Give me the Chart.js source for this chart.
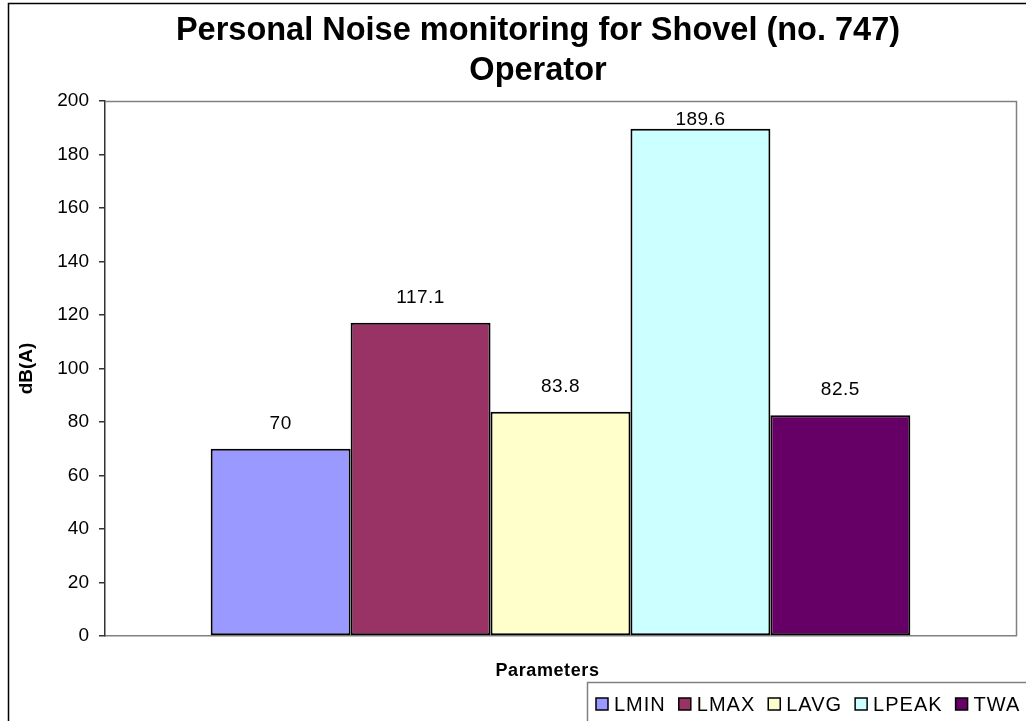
<!DOCTYPE html>
<html>
<head>
<meta charset="utf-8">
<script src="https://cdn.jsdelivr.net/npm/chart.js@4.4.0/dist/chart.umd.min.js"></script>
<style>
  html, body { margin: 0; padding: 0; background: #fff; overflow: hidden; }
  #wrap { position: relative; width: 1026px; height: 721px; }
</style>
</head>
<body>
<div id="wrap"><canvas id="c" width="1026" height="721"></canvas></div>
<script>
// ---- data ----
const categories = [''];
const seriesNames = ['LMIN', 'LMAX', 'LAVG', 'LPEAK', 'TWA'];
const seriesValues = [70, 117.1, 83.8, 189.6, 82.5];
const seriesColors = ['#9999FF', '#993366', '#FFFFCC', '#CCFFFF', '#660066'];
const titleLines = ['Personal Noise monitoring for Shovel (no. 747)', 'Operator'];
const yAxisTitle = 'dB(A)';
const xAxisTitle = 'Parameters';
const yMin = 0, yMax = 200, yStep = 20;

const FONT = '"Liberation Sans", Arial, Helvetica, sans-serif';
Chart.defaults.font.family = FONT;
Chart.defaults.color = '#000';

const datasets = seriesNames.map((name, i) => ({
  label: name,
  data: [seriesValues[i]],
  backgroundColor: seriesColors[i],
  borderColor: '#000',
  borderWidth: 2,
  borderSkipped: false,
  barPercentage: 1,
  categoryPercentage: 0.768
}));

const framePlugin = {
  id: 'frame',
  beforeDraw(chart) {
    const ctx = chart.ctx;
    ctx.save();
    ctx.fillStyle = '#fff';
    ctx.fillRect(0, 0, chart.width, chart.height);
    ctx.strokeStyle = '#000';
    ctx.lineWidth = 1.5;
    ctx.strokeRect(8.5, 3.5, 3000, 3000);
    ctx.restore();
  },
  beforeDatasetsDraw(chart) {
    const {ctx, chartArea: a} = chart;
    ctx.save();
    ctx.strokeStyle = '#808080';
    ctx.lineWidth = 1.5;
    ctx.beginPath();
    ctx.moveTo(a.left, a.top + 0.5);
    ctx.lineTo(a.right + 0.5, a.top + 0.5);
    ctx.lineTo(a.right + 0.5, a.bottom);
    ctx.stroke();
    ctx.restore();
  },
  afterLayout(chart) {
    if (chart.titleBlock) {
      chart.titleBlock.left = 50;
      chart.titleBlock.right = 1026;
    }
  }
};

const valueLabelPlugin = {
  id: 'valueLabels',
  afterDatasetsDraw(chart) {
    const {ctx, chartArea: a} = chart;
    ctx.save();
    ctx.font = '19px ' + FONT;
    ctx.fillStyle = '#000';
    ctx.textAlign = 'center';
    ctx.textBaseline = 'alphabetic';
    try { ctx.letterSpacing = '0.5px'; } catch (e) {}
    chart.data.datasets.forEach((ds, i) => {
      const meta = chart.getDatasetMeta(i);
      meta.data.forEach((bar, j) => {
        const v = ds.data[j];
        const y = Math.max(bar.y - 20, a.top + 24);
        ctx.fillText(String(v), bar.x, y);
      });
    });
    ctx.restore();
  }
};

const axisTitlePlugin = {
  id: 'xTitle',
  afterDraw(chart) {
    const {ctx, chartArea: a} = chart;
    ctx.save();
    ctx.font = 'bold 18px ' + FONT;
    try { ctx.letterSpacing = '0.6px'; } catch (e) {}
    ctx.fillStyle = '#000';
    ctx.textAlign = 'center';
    ctx.textBaseline = 'middle';
    ctx.fillText(xAxisTitle, (a.left + a.right) / 2 - 13, a.bottom + 35);
    ctx.restore();
  }
};

const legendPlugin = {
  id: 'boxLegend',
  afterDraw(chart) {
    const ctx = chart.ctx;
    ctx.save();
    const boxX = 587.5, boxY = 682.5;
    ctx.strokeStyle = '#808080';
    ctx.lineWidth = 1.5;
    ctx.strokeRect(boxX, boxY, 2000, 2000);
    ctx.font = '20px ' + FONT;
    try { ctx.letterSpacing = '1px'; } catch (e) {}
    ctx.textBaseline = 'middle';
    ctx.textAlign = 'left';
    let x = 596;
    const cy = 704;
    const sq = 12;
    chart.data.datasets.forEach(ds => {
      ctx.fillStyle = ds.backgroundColor;
      ctx.fillRect(x, cy - sq / 2, sq, sq);
      ctx.strokeStyle = '#000';
      ctx.lineWidth = 1.5;
      ctx.strokeRect(x, cy - sq / 2, sq, sq);
      x += sq + 6;
      ctx.fillStyle = '#000';
      ctx.fillText(ds.label, x, cy + 1);
      x += ctx.measureText(ds.label).width + 13;
    });
    ctx.restore();
  }
};

new Chart(document.getElementById('c'), {
  type: 'bar',
  data: { labels: categories, datasets },
  options: {
    responsive: false,
    animation: false,
    events: [],
    layout: { padding: { left: 0, right: 10, top: 0, bottom: 85 } },
    plugins: {
      legend: { display: false },
      tooltip: { enabled: false },
      title: {
        display: true,
        text: titleLines,
        color: '#000',
        font: { size: 32.5, weight: 'bold', lineHeight: 1.23 },
        padding: { top: 11, bottom: 10 }
      }
    },
    scales: {
      x: {
        ticks: { display: false },
        grid: { display: false, drawTicks: false },
        border: { display: true, color: '#808080', width: 1.5 },
        title: { display: false, text: xAxisTitle }
      },
      y: {
        min: yMin,
        max: yMax,
        afterFit(s) { s.width = 105; },
        ticks: { stepSize: yStep, font: { size: 19 }, color: '#000', padding: 10 },
        grid: { display: true, drawOnChartArea: false, drawTicks: true, tickLength: 6, color: '#333', lineWidth: 1.5 },
        border: { display: true, color: '#333', width: 1.5 },
        title: {
          display: true,
          text: yAxisTitle,
          color: '#000',
          font: { size: 19, weight: 'bold', lineHeight: 1.2 },
          padding: { top: 15, bottom: 0 }
        }
      }
    }
  },
  plugins: [framePlugin, valueLabelPlugin, axisTitlePlugin, legendPlugin]
});
</script>
</body>
</html>
